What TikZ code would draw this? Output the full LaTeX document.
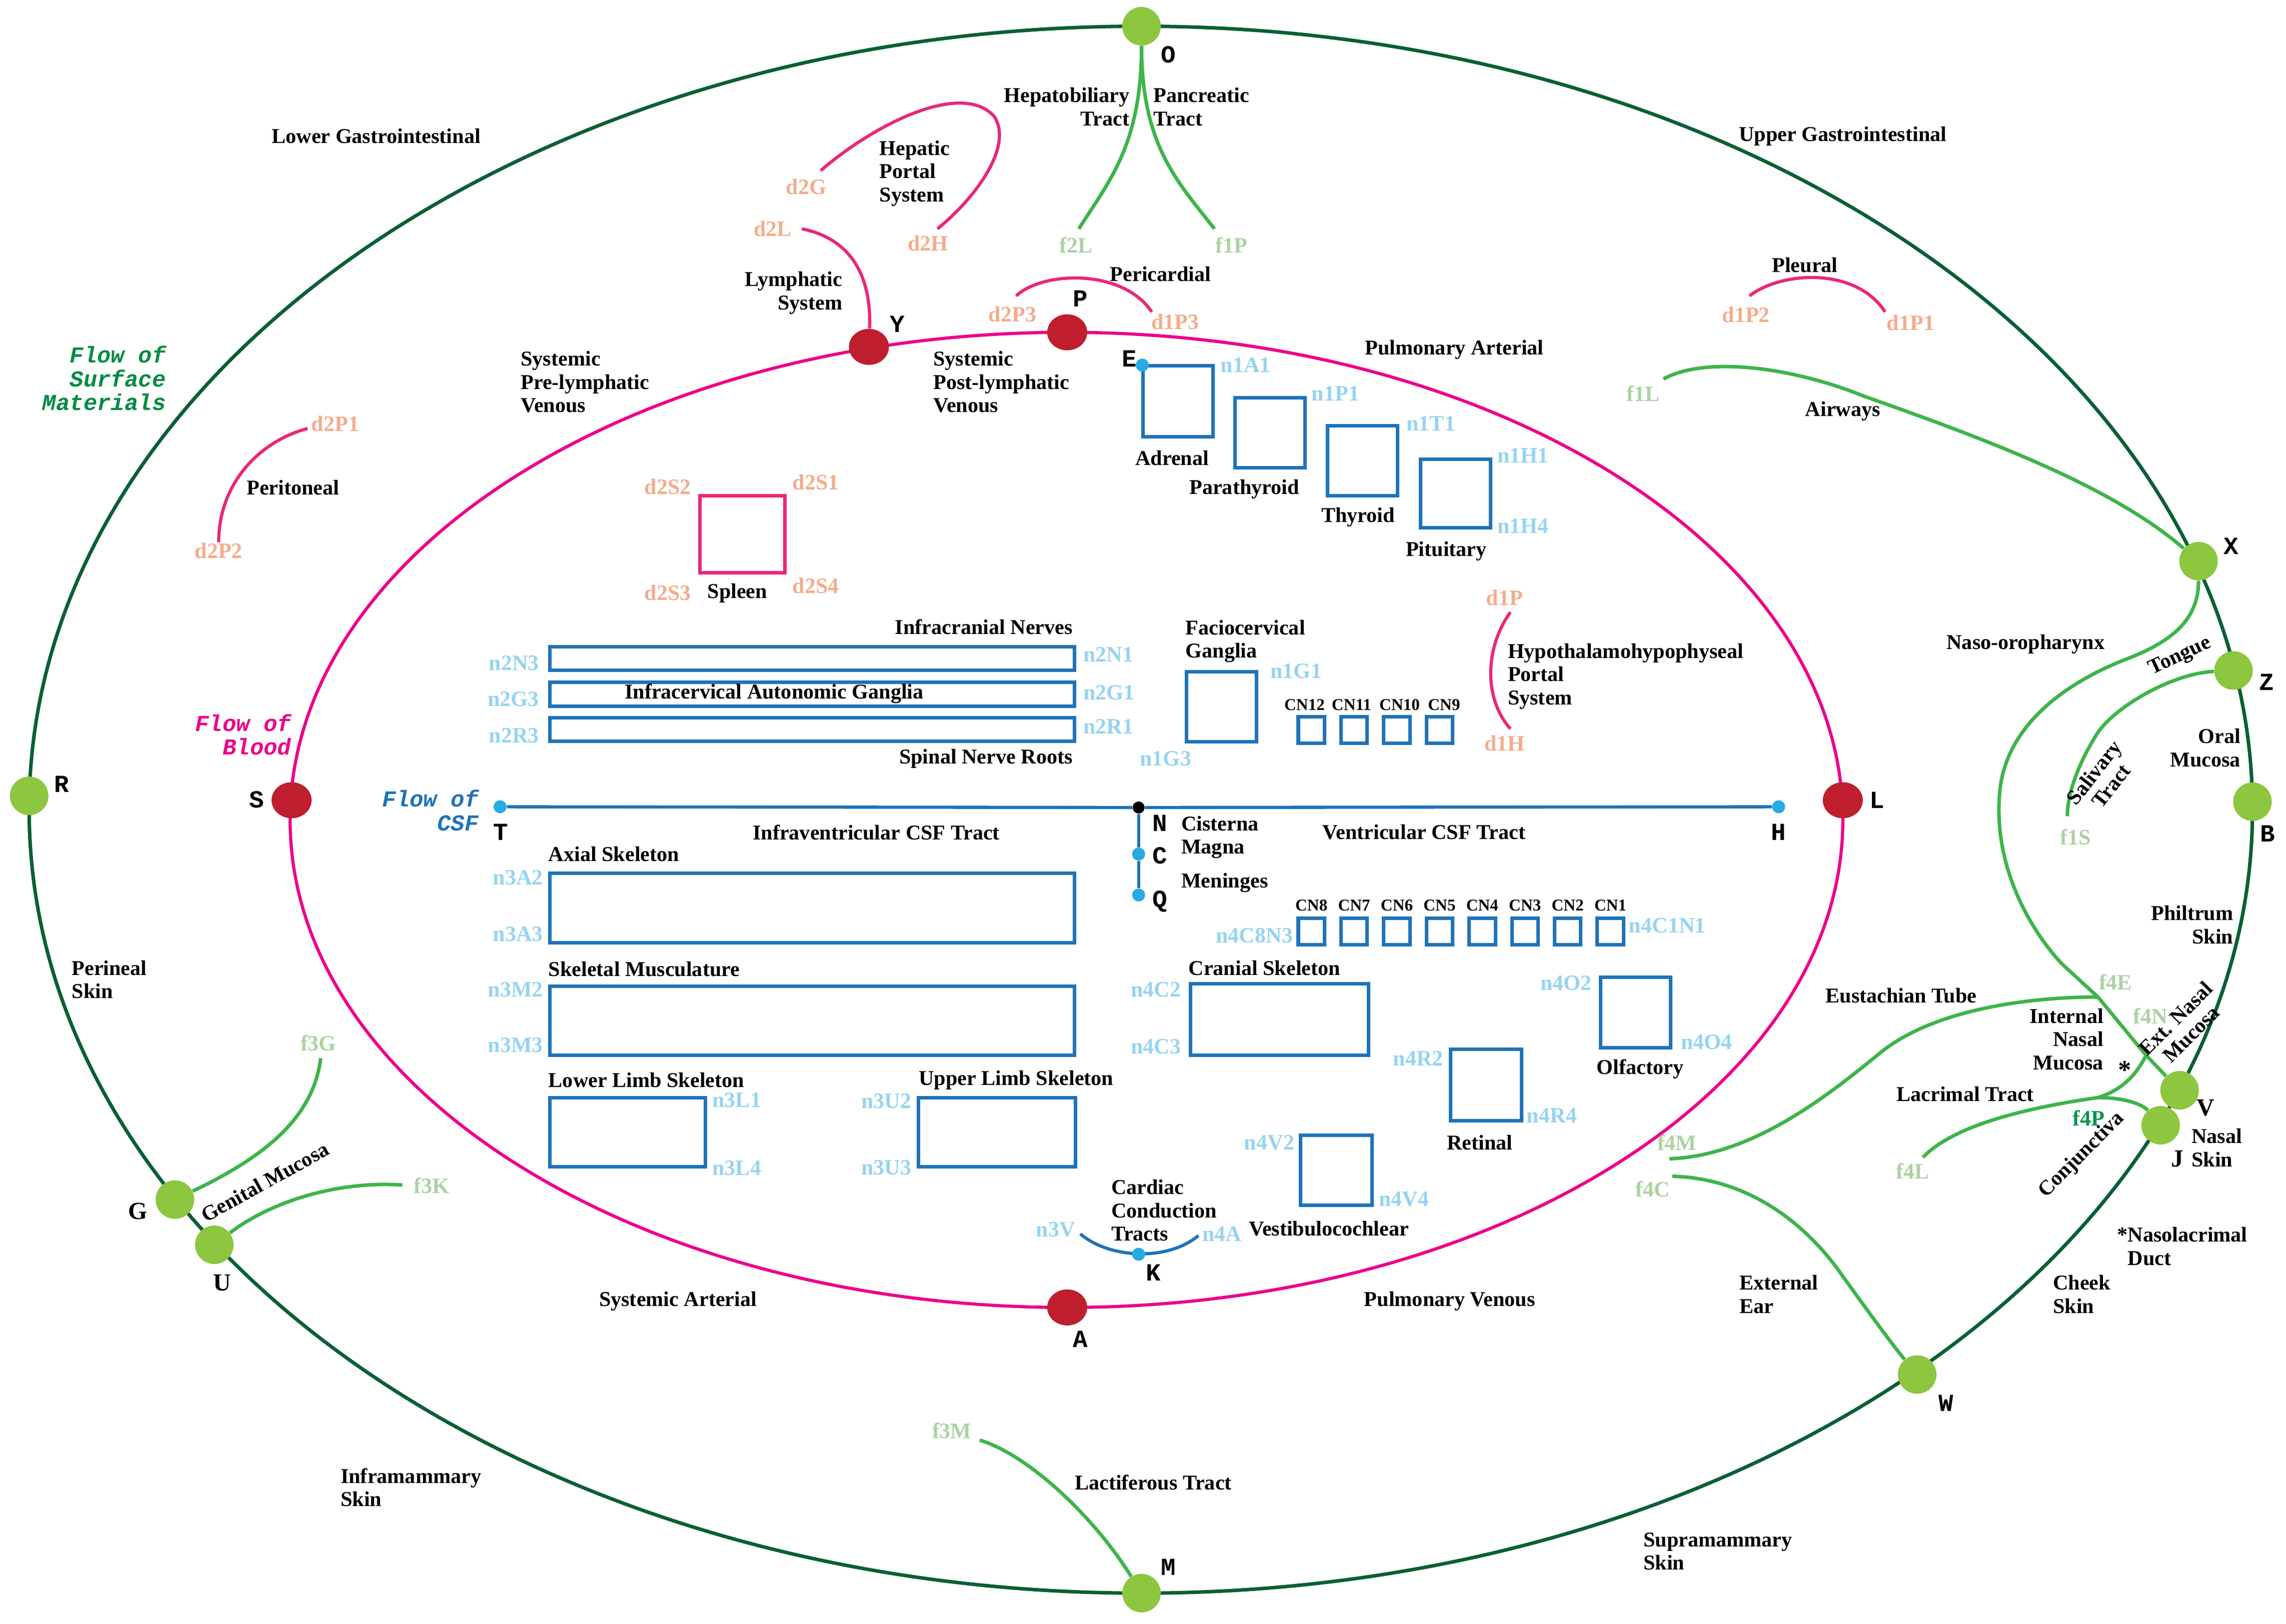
\documentclass[tikz,border=0pt]{standalone}
\usepackage{fontspec}
\setmainfont{Liberation Serif}
\newfontfamily\monof{Liberation Mono}
\usetikzlibrary{shapes.geometric}
\definecolor{dkgreen}{RGB}{10,95,52}
\definecolor{trgreen}{RGB}{62,180,74}
\definecolor{ndgreen}{RGB}{141,198,63}
\definecolor{ndred}{RGB}{190,30,45}
\definecolor{bpink}{RGB}{236,0,140}
\definecolor{apink}{RGB}{233,40,120}
\definecolor{bxblue}{RGB}{30,115,185}
\definecolor{dotcyan}{RGB}{40,170,226}
\definecolor{lblue}{RGB}{150,212,240}
\definecolor{salmon}{RGB}{244,172,140}
\definecolor{pgreen}{RGB}{172,210,162}
\definecolor{fpgreen}{RGB}{0,150,72}
\definecolor{flowgreen}{RGB}{0,140,68}
\tikzset{
 lb/.style={font=\bfseries\fontsize{12}{13.2}\selectfont, inner sep=0, align=left},
 lbr/.style={lb, align=right},
 lbc/.style={lb, align=center},
 cl/.style={font=\bfseries\fontsize{12.5}{13}\selectfont, inner sep=0},
 dl/.style={cl, text=salmon},
 nl/.style={cl, text=lblue},
 fl/.style={cl, text=pgreen},
 ml/.style={font=\monof\bfseries\fontsize{14}{14}\selectfont, inner sep=0},
 sl/.style={font=\bfseries\fontsize{14}{14}\selectfont, inner sep=0},
 flow/.style={font=\monof\bfseries\itshape\fontsize{13}{13.6}\selectfont, inner sep=0, align=right},
 cn/.style={font=\bfseries\fontsize{9.4}{10}\selectfont, inner sep=0},
 gnode/.style={circle, fill=ndgreen, minimum size=0.77cm, inner sep=0},
 rnode/.style={ellipse, fill=ndred, minimum width=0.8cm, minimum height=0.72cm, inner sep=0},
 cdot/.style={circle, fill=dotcyan, minimum size=0.26cm, inner sep=0},
 bdot/.style={circle, fill=black, minimum size=0.24cm, inner sep=0},
 outer/.style={draw=dkgreen, line width=2pt},
 blood/.style={draw=bpink, line width=1.8pt},
 arcp/.style={draw=apink, line width=1.8pt},
 tract/.style={draw=trgreen, line width=2pt},
 bx/.style={draw=bxblue, line width=2pt},
 pbx/.style={draw=apink, line width=2pt},
 csf/.style={draw=bxblue, line width=1.8pt},
}
\begin{document}
\begin{tikzpicture}[x=0.02915cm, y=-0.02915cm]
\useasboundingbox (0,0) rectangle (1568,1114);
% main ellipses
\draw[outer] (782.5,555.5) ellipse [x radius=762.5, y radius=537.5];
\draw[blood] (731.5,562.5) ellipse [x radius=532.5, y radius=334.5];
% green nodes
\node[gnode] (O) at (783,18) {};
\node[gnode] (R) at (20,546) {};
\node[gnode] (B) at (1545,550) {};
\node[gnode] (X) at (1508,385) {};
\node[gnode] (Z) at (1532,460) {};
\node[gnode] (V) at (1495,748) {};
\node[gnode] (J) at (1482,772) {};
\node[gnode] (W) at (1315,943) {};
\node[gnode] (M) at (783,1093) {};
\node[gnode] (G) at (120,823) {};
\node[gnode] (U) at (147,854) {};
% red nodes
\node[rnode] (Yn) at (596,238) {};
\node[rnode] (Pn) at (732,228) {};
\node[rnode] (Sn) at (200,549) {};
\node[rnode] (Ln) at (1264,549) {};
\node[rnode] (An) at (732,897) {};
% coordinates of free ends
\coordinate (f2Le) at (740,157);
\coordinate (f1Pe) at (833,157);
\coordinate (f1Le) at (1141,260);
\coordinate (f1Se) at (1418,560);
\coordinate (jE) at (1439,684);
\coordinate (jN) at (1472,724);
\coordinate (jL) at (1439,753);
\coordinate (f4Me) at (1145,795);
\coordinate (f4Le) at (1319,794);
\coordinate (f4Ce) at (1147,807);
\coordinate (f3Ge) at (220,726);
\coordinate (f3Ke) at (276,813);
\coordinate (f3Me) at (672,988);
\coordinate (d2Ge) at (563,117);
\coordinate (d2He) at (643,157);
\coordinate (d2Le) at (550,157);
\coordinate (d2P3e) at (697,203);
\coordinate (d1P3e) at (790,214);
\coordinate (d1P2e) at (1200,203);
\coordinate (d1P1e) at (1293,214);
\coordinate (d2P1e) at (211,294);
\coordinate (d2P2e) at (150,372);
\coordinate (d1Pe) at (1036,420);
\coordinate (d1He) at (1036,500);
\coordinate (n3Ve) at (741,846.5);
\coordinate (n4Ae) at (822,847.7);
% surface tracts
\draw[tract] (O) .. controls (783,100) and (760,125) .. (f2Le);
\draw[tract] (O) .. controls (783,100) and (808,125) .. (f1Pe);
\draw[tract] (f1Le) .. controls (1170,244) and (1230,252) .. (1279,272) .. controls (1370,304) and (1450,335) .. (X);
\draw[tract] (X) .. controls (1508,425) and (1490,440) .. (1459,452) .. controls (1420,467) and (1378,495) .. (1372,540) .. controls (1366,590) and (1390,635) .. (1414,661) -- (jE) -- (jN) -- (V);
\draw[tract] (Z) .. controls (1490,462) and (1450,485) .. (1438,504) .. controls (1425,525) and (1418,545) .. (f1Se);
\draw[tract] (jE) .. controls (1400,684) and (1330,690) .. (1290,722) .. controls (1250,755) and (1200,793) .. (f4Me);
\draw[tract] (f4Le) .. controls (1340,772) and (1390,760) .. (jL);
\draw[tract] (jL) .. controls (1455,748) and (1465,738) .. (jN);
\draw[tract] (jL) .. controls (1458,753) and (1470,758) .. (J);
\draw[tract] (f4Ce) .. controls (1190,808) and (1230,830) .. (1260,870) .. controls (1285,905) and (1300,925) .. (W);
\draw[tract] (f3Ge) .. controls (215,765) and (185,792) .. (G);
\draw[tract] (f3Ke) .. controls (230,810) and (185,825) .. (U);
\draw[tract] (f3Me) .. controls (705,998) and (750,1040) .. (M);
% blood side arcs
\draw[arcp] (d2Ge) .. controls (600,85) and (660,55) .. (682,80) .. controls (695,100) and (670,135) .. (d2He);
\draw[arcp] (d2Le) .. controls (580,163) and (598,185) .. (Yn);
\draw[arcp] (d2P3e) .. controls (715,186) and (770,184) .. (d1P3e);
\draw[arcp] (d1P2e) .. controls (1222,186) and (1273,183) .. (d1P1e);
\draw[arcp] (d2P1e) .. controls (180,302) and (150,330) .. (d2P2e);
\draw[arcp] (d1Pe) .. controls (1018,445) and (1018,480) .. (d1He);
\draw[pbx] (480,340) rectangle (538.5,393);
% CSF
\node[cdot] (Td) at (343,553.5) {};
\node[cdot] (Hd) at (1220,553.5) {};
\node[bdot] (Nd) at (781,554) {};
\node[cdot] (Cd) at (781,586) {};
\node[cdot] (Qd) at (781,614) {};
\draw[csf] (Td) -- (Nd) -- (Hd);
\draw[csf] (Nd) -- (Cd) -- (Qd);
% cardiac
\draw[csf] (n3Ve) .. controls (760,863) and (800,866) .. (n4Ae);
\node[cdot] (Kd) at (781,860.5) {};
% boxes
\draw[bx] (784,251) rectangle (832,299.5);
\draw[bx] (847,273) rectangle (895,321);
\draw[bx] (910.5,292) rectangle (958.5,340);
\draw[bx] (974.5,315) rectangle (1022.5,362);
\node[cdot] (Ed) at (783.5,250.5) {};
\draw[bx] (377,443.6) rectangle (737,460);
\draw[bx] (377,468) rectangle (737,484.5);
\draw[bx] (377,492.5) rectangle (737,508.7);
\draw[bx] (814,461) rectangle (862,509);
\foreach \i in {0,1,2,3} {
 \draw[bx] ({890.5+29.3*\i},491.7) rectangle ({908.5+29.3*\i},509.8);
}
\node[cn] (cnu0) at (894.8,483.7) {CN12};
\node[cn] (cnu1) at (927,483.7) {CN11};
\node[cn] (cnu2) at (960,483.7) {CN10};
\node[cn] (cnu3) at (990.5,483.7) {CN9};
\foreach \i/\t in {0/CN8,1/CN7,2/CN6,3/CN5,4/CN4,5/CN3,6/CN2,7/CN1} {
 \draw[bx] ({890.5+29.3*\i},630) rectangle ({908.5+29.3*\i},648);
 \node[cn] (cnl\i) at ({899.5+29.3*\i},621) {\t};
}
\draw[bx] (377,599) rectangle (737,646.7);
\draw[bx] (377,676.5) rectangle (737,724);
\draw[bx] (377,753) rectangle (484,800.5);
\draw[bx] (630,753) rectangle (737.6,800.5);
\draw[bx] (816.5,675) rectangle (938.6,724);
\draw[bx] (1098,670.5) rectangle (1146,718.7);
\draw[bx] (995,720) rectangle (1043.6,769);
\draw[bx] (892,779) rectangle (941,827);
% black labels
\node[lb] (t1) at (258,93.5) {Lower Gastrointestinal};
\node[lb] (t2) at (1264,93.5) {Upper Gastrointestinal};
\node[lbr, anchor=east] (t3) at (775,73.3) {Hepatobiliary\\Tract};
\node[lb, anchor=west] (t4) at (791,73.3) {Pancreatic\\Tract};
\node[lb, anchor=west] (t5) at (603,119) {Hepatic\\Portal\\System};
\node[lbr, anchor=east] (t6) at (578,201) {Lymphatic\\System};
\node[lb] (t7) at (796,188) {Pericardial};
\node[lb] (t8) at (1238,182) {Pleural};
\node[lb, anchor=west] (t9) at (357,262) {Systemic\\Pre-lymphatic\\Venous};
\node[lb, anchor=west] (t10) at (640,262) {Systemic\\Post-lymphatic\\Venous};
\node[lb, anchor=west] (t11) at (936,240) {Pulmonary Arterial};
\node[lb] (t12) at (1264,282) {Airways};
\node[lb] (t13) at (201,334.5) {Peritoneal};
\node[lb] (t14) at (804,314.4) {Adrenal};
\node[lb] (t15) at (853.5,335.7) {Parathyroid};
\node[lb] (t16) at (931.5,355) {Thyroid};
\node[lb] (t17) at (992,378.3) {Pituitary};
\node[lb, anchor=west] (t18) at (485,407) {Spleen};
\node[lb, anchor=east] (t19) at (736,430) {Infracranial Nerves};
\node[lb] (t20) at (531,476) {Infracervical Autonomic Ganglia};
\node[lb, anchor=east] (t21) at (736,520.4) {Spinal Nerve Roots};
\node[lb, anchor=west] (t22) at (813,440) {Faciocervical\\Ganglia};
\node[lb, anchor=west] (t23) at (1034,464) {Hypothalamohypophyseal\\Portal\\System};
\node[lb, anchor=west] (t24) at (810,574.5) {Cisterna\\Magna};
\node[lb, anchor=west] (t25) at (810,605.6) {Meninges};
\node[lb] (t26) at (601,571) {Infraventricular CSF Tract};
\node[lb, anchor=west] (t27) at (907,571) {Ventricular CSF Tract};
\node[lb, anchor=west] (t28) at (376,586) {Axial Skeleton};
\node[lb, anchor=west] (t29) at (376,665) {Skeletal Musculature};
\node[lb, anchor=west] (t30) at (376,741) {Lower Limb Skeleton};
\node[lb, anchor=west] (t31) at (630,741) {Upper Limb Skeleton};
\node[lb, anchor=west] (t32) at (815,664) {Cranial Skeleton};
\node[lb] (t33) at (1125,733.5) {Olfactory};
\node[lb] (t34) at (1015,783.8) {Retinal};
\node[lb] (t35) at (911.5,843) {Vestibulocochlear};
\node[lb, anchor=west] (t36) at (762,830.4) {Cardiac\\Conduction\\Tracts};
\node[lb] (t37) at (465,892.6) {Systemic Arterial};
\node[lb, anchor=west] (t38) at (935.5,892.6) {Pulmonary Venous};
\node[lb, anchor=west] (t39) at (737,1017) {Lactiferous Tract};
\node[lb, anchor=west] (t40) at (233.4,1020.5) {Inframammary\\Skin};
\node[lb, anchor=west] (t41) at (1127,1064.3) {Supramammary\\Skin};
\node[lb, anchor=west] (t42) at (49,672) {Perineal\\Skin};
\node[lb, anchor=west] (t43) at (1408,888) {Cheek\\Skin};
\node[lb, anchor=west] (t44) at (1193,888) {External\\Ear};
\node[lb, anchor=west] (t45) at (1452,855) {*Nasolacrimal\\\phantom{*}Duct};
\node[lb, anchor=west] (t46) at (1503,787.5) {Nasal\\Skin};
\node[lbr, anchor=east] (t47) at (1532,634.5) {Philtrum\\Skin};
\node[lbr, anchor=east] (t48) at (1537,513) {Oral\\Mucosa};
\node[lb, anchor=west] (t49) at (1335,442) {Naso-oropharynx};
\node[lb, anchor=west] (t50) at (1252,683) {Eustachian Tube};
\node[lbr, anchor=east] (t51) at (1443,713) {Internal\\Nasal\\Mucosa};
\node[lb] (t52) at (1348,750.6) {Lacrimal Tract};
\node[font=\bfseries\fontsize{15}{15}\selectfont, inner sep=0] (t53) at (1457.5,734) {*};
\node[lb, rotate=25] (t54) at (1495.4,450.5) {Tongue};
\node[lbc, rotate=52, font=\bfseries\fontsize{12}{12.4}\selectfont] (t55) at (1442,534.5) {Salivary\\Tract};
\node[lbc, rotate=45, font=\bfseries\fontsize{12}{12.4}\selectfont] (t56) at (1497.5,704) {Ext. Nasal\\Mucosa};
\node[lb, rotate=45] (t57) at (1428,792.5) {Conjunctiva};
\node[lb, rotate=29] (t58) at (181.7,811) {Genital Mucosa};
% flow labels
\node[flow, anchor=east, text=flowgreen] (fw1) at (114,259.5) {Flow of\\Surface\\Materials};
\node[flow, anchor=east, text=bpink] (fw2) at (200,504) {Flow of\\Blood};
\node[flow, anchor=east, text=bxblue] (fw3) at (328.4,556) {Flow of\\CSF};
% letter labels
\node[ml] (lO) at (801.5,37.4) {O};
\node[ml] (lY) at (615.5,222.5) {Y};
\node[ml] (lP) at (741,204.8) {P};
\node[ml] (lE) at (774.5,246) {E};
\node[ml] (lR) at (42.3,538) {R};
\node[ml] (lS) at (176,548.7) {S};
\node[ml] (lT) at (343.4,571) {T};
\node[ml] (lN) at (795.6,564.8) {N};
\node[ml] (lC) at (795.6,587) {C};
\node[ml] (lQ) at (795.6,618.5) {Q};
\node[ml] (lH) at (1220,571) {H};
\node[ml] (lL) at (1287.6,549) {L};
\node[ml] (lX) at (1530.4,374.7) {X};
\node[ml] (lZ) at (1554.7,468) {Z};
\node[ml] (lB) at (1555.5,572) {B};
\node[sl] (lV) at (1513,760) {V};
\node[sl] (lJ) at (1493.5,795) {J};
\node[ml] (lW) at (1334.7,962.6) {W};
\node[ml] (lM) at (801.5,1075) {M};
\node[ml] (lA) at (741,918.7) {A};
\node[ml] (lK) at (791,873) {K};
\node[sl] (lG) at (94.4,831) {G};
\node[sl] (lU) at (152.4,880) {U};
% d labels
\node[dl] (d2G) at (553,128) {d2G};
\node[dl] (d2L) at (530,157) {d2L};
\node[dl] (d2H) at (636.5,167) {d2H};
\node[dl] (d2P3) at (694.5,215.5) {d2P3};
\node[dl] (d1P3) at (806,220.7) {d1P3};
\node[dl] (d1P2) at (1197.6,216) {d1P2};
\node[dl] (d1P1) at (1310.5,221.5) {d1P1};
\node[dl] (d2P1) at (230,290.7) {d2P1};
\node[dl] (d2P2) at (150,377.8) {d2P2};
\node[dl] (d2S2) at (458,334) {d2S2};
\node[dl] (d2S1) at (559.5,331) {d2S1};
\node[dl] (d2S3) at (458,406.7) {d2S3};
\node[dl] (d2S4) at (559.5,402) {d2S4};
\node[dl] (d1P) at (1032,410) {d1P};
\node[dl] (d1H) at (1032,510) {d1H};
% n labels
\node[nl, anchor=west] (n1A1) at (837,250.5) {n1A1};
\node[nl, anchor=west] (n1P1) at (899.5,270) {n1P1};
\node[nl, anchor=west] (n1T1) at (964.5,290.7) {n1T1};
\node[nl, anchor=west] (n1H1) at (1026.8,312.5) {n1H1};
\node[nl, anchor=west] (n1H4) at (1026.8,361) {n1H4};
\node[nl, anchor=east] (n2N3) at (370,455) {n2N3};
\node[nl, anchor=east] (n2G3) at (370,479.6) {n2G3};
\node[nl, anchor=east] (n2R3) at (370,504.5) {n2R3};
\node[nl, anchor=west] (n2N1) at (742.8,449) {n2N1};
\node[nl, anchor=west] (n2G1) at (742.8,475) {n2G1};
\node[nl, anchor=west] (n2R1) at (742.8,498.3) {n2R1};
\node[nl, anchor=west] (n1G1) at (871.2,460.4) {n1G1};
\node[nl] (n1G3) at (799.5,520.4) {n1G3};
\node[nl, anchor=east] (n4C8N3) at (887,642) {n4C8N3};
\node[nl, anchor=west] (n4C1N1) at (1117,635) {n4C1N1};
\node[nl, anchor=east] (n3A2) at (372.7,602) {n3A2};
\node[nl, anchor=east] (n3A3) at (372.7,641) {n3A3};
\node[nl, anchor=east] (n3M2) at (372.7,679) {n3M2};
\node[nl, anchor=east] (n3M3) at (372.7,717) {n3M3};
\node[nl, anchor=west] (n3L1) at (488.4,754.7) {n3L1};
\node[nl, anchor=west] (n3L4) at (488.4,801.5) {n3L4};
\node[nl, anchor=east] (n3U2) at (625.4,755.4) {n3U2};
\node[nl, anchor=east] (n3U3) at (625.4,801) {n3U3};
\node[nl, anchor=east] (n4C2) at (810.2,679) {n4C2};
\node[nl, anchor=east] (n4C3) at (810.2,718) {n4C3};
\node[nl, anchor=east] (n4O2) at (1092,674.3) {n4O2};
\node[nl, anchor=west] (n4O4) at (1152.7,715) {n4O4};
\node[nl, anchor=east] (n4R2) at (990.2,726.3) {n4R2};
\node[nl, anchor=west] (n4R4) at (1047,765.4) {n4R4};
\node[nl, anchor=east] (n4V2) at (888,783.8) {n4V2};
\node[nl, anchor=west] (n4V4) at (945.5,822.8) {n4V4};
\node[nl, anchor=east] (n3V) at (737.8,843.7) {n3V};
\node[nl, anchor=west] (n4A) at (824.5,846.6) {n4A};
% f labels
\node[fl] (f2L) at (738,168) {f2L};
\node[fl] (f1P) at (844.6,168) {f1P};
\node[fl] (f1L) at (1127,270) {f1L};
\node[fl] (f1S) at (1423.7,574.3) {f1S};
\node[fl] (f4E) at (1451,673.8) {f4E};
\node[fl] (f4N) at (1475,697) {f4N};
\node[cl, text=fpgreen] (f4P) at (1432.6,767) {f4P};
\node[fl] (f4M) at (1150.3,783.8) {f4M};
\node[fl] (f4C) at (1133.6,815.8) {f4C};
\node[fl] (f4L) at (1312,803.5) {f4L};
\node[fl] (f3G) at (218.4,715.6) {f3G};
\node[fl] (f3K) at (296,813.4) {f3K};
\node[fl] (f3M) at (652.8,981.5) {f3M};
\end{tikzpicture}
\end{document}
